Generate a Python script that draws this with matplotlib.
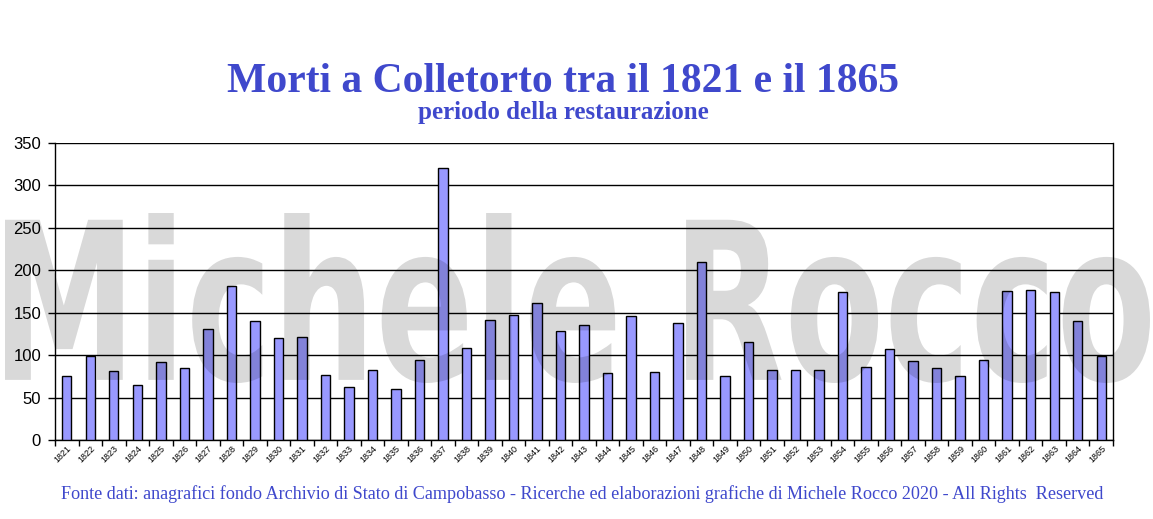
import matplotlib
matplotlib.use('Agg')
import matplotlib.pyplot as plt
import numpy as np
from matplotlib.textpath import TextPath
from matplotlib.patches import PathPatch
from matplotlib.font_manager import FontProperties
from matplotlib.transforms import Affine2D

# ── Data ──
anni = [str(a) for a in range(1821, 1866)]
morti = [75, 99, 81, 65, 92, 85, 131, 181, 140, 120,
         121, 77, 63, 82, 60, 94, 320, 108, 141, 147,
         162, 128, 135, 79, 146, 80, 138, 210, 76, 115,
         82, 82, 82, 174, 86, 107, 93, 85, 75, 94,
         176, 177, 174, 140, 99]
y_ticks = [0, 50, 100, 150, 200, 250, 300, 350]

W, H = 1153, 519
blu = '#3f48cc'

fig = plt.figure(figsize=(W / 100, H / 100), dpi=100)
fig.patch.set_facecolor('white')

ax = fig.add_axes([55 / W, 1 - 440 / H, (1113 - 55) / W, (440 - 143) / H])
x = np.arange(len(anni))
ax.bar(x, morti, width=0.4, color='#9999ff', edgecolor='black', linewidth=1.0, zorder=3)

ax.set_xlim(-0.5, len(anni) - 0.5)
ax.set_ylim(0, 350)
ax.set_yticks(y_ticks)
ax.set_yticklabels([str(v) for v in y_ticks], fontsize=12, family='Liberation Sans')
ax.yaxis.grid(True, color='black', linewidth=1.0, zorder=1)
ax.set_axisbelow(True)

# category labels at centres, tick marks at boundaries
ax.set_xticks(x)
ax.set_xticklabels(anni, rotation=45, ha='right', va='top', rotation_mode='anchor',
                   fontsize=6.5, family='Liberation Sans')
ax.tick_params(axis='x', which='major', length=0, pad=3)
ax.set_xticks(np.arange(len(anni) + 1) - 0.5, minor=True)
ax.tick_params(axis='x', which='minor', length=4, width=1, direction='out')
ax.tick_params(axis='y', length=5, width=1, direction='out', pad=5)

for s in ['left', 'bottom', 'right']:
    ax.spines[s].set_linewidth(1.0)
    ax.spines[s].set_color('black')
ax.spines['top'].set_visible(False)

# ── Titles ──
fig.text(563 / W, 1 - 92 / H, 'Morti a Colletorto tra il 1821 e il 1865', ha='center', va='baseline',
         fontsize=30, color=blu, family='Liberation Serif', weight='bold')
fig.text(563 / W, 1 - 119 / H, 'periodo della restaurazione', ha='center', va='baseline',
         fontsize=18, color=blu, family='Liberation Serif', weight='bold')
fig.text(582 / W, 1 - 499 / H,
         'Fonte dati: anagrafici fondo Archivio di Stato di Campobasso - Ricerche ed elaborazioni '
         'grafiche di Michele Rocco 2020 - All Rights  Reserved',
         ha='center', va='baseline', fontsize=13.1, color=blu, family='Liberation Serif')

# ── Watermark ──
tp = TextPath((0, 0), 'Michele Rocco', size=100,
              prop=FontProperties(family='DejaVu Sans', weight='bold'))
bb = tp.get_extents()
x0, x1, yb, yt = 5, 1150, 383, 213
sx = (x1 - x0) / bb.width
sy = (yb - yt) / bb.height
tr = (Affine2D().translate(-bb.x0, -bb.y0).scale(sx / W, sy / H)
      .translate(x0 / W, 1 - yb / H) + fig.transFigure)
wm = PathPatch(tp, transform=tr, facecolor='black', edgecolor='none', alpha=0.15, zorder=10)
fig.patches.append(wm)

fig.savefig('out.png', dpi=100, facecolor='white')
